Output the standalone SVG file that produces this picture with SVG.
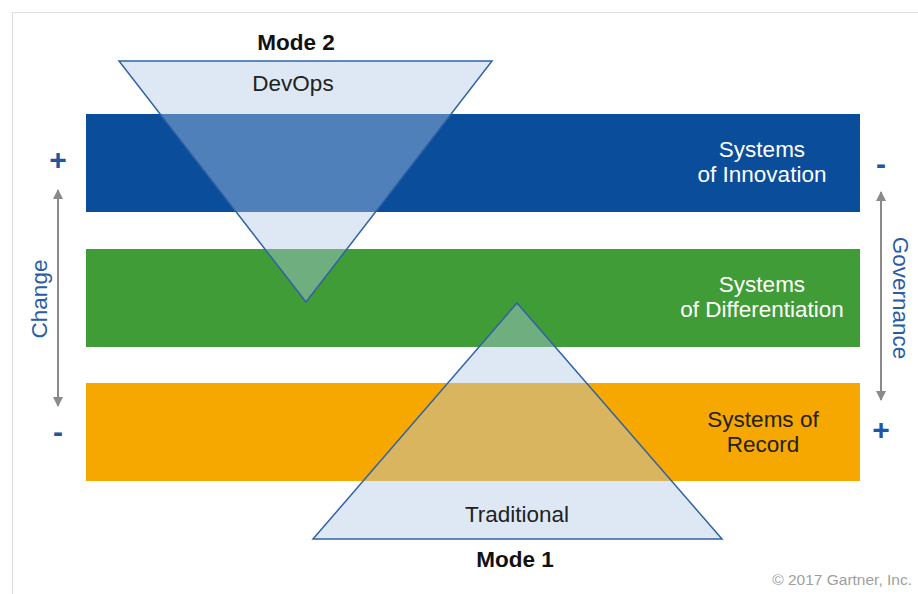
<svg xmlns="http://www.w3.org/2000/svg" width="918" height="594" viewBox="0 0 918 594">
<style>
.lbl{font-family:"Liberation Sans",Arial,sans-serif;font-size:22.5px;text-anchor:middle}
.w{fill:#ffffff}
.d{fill:#222222}
.b{font-weight:bold;fill:#111111}
.sign{font-family:"Liberation Sans",Arial,sans-serif;font-weight:bold;fill:#1f56a3;text-anchor:middle}
.axis{font-family:"Liberation Sans",Arial,sans-serif;font-size:22.5px;fill:#2a5ca6;text-anchor:middle}
.tri{fill:#b0c8e4;fill-opacity:0.42;stroke:#2f63a6;stroke-width:1.5}
.arr{stroke:#8a8a8a;stroke-width:2;fill:none}
</style>
<defs>
<marker id="ah" viewBox="0 0 10 10" refX="9" refY="5" markerWidth="5" markerHeight="5" orient="auto-start-reverse">
<path d="M0,0 L10,5 L0,10 z" fill="#8a8a8a"/>
</marker>
</defs>
<rect x="0" y="0" width="918" height="594" fill="#ffffff"/>
<rect x="12.5" y="12.5" width="910" height="590" fill="none" stroke="#dddddd" stroke-width="1"/>
<g id="band-innovation">
<rect x="86" y="114" width="774" height="98" fill="#0a4d9b"/>
<text class="lbl w" x="762" y="157">Systems</text>
<text class="lbl w" x="762" y="182">of Innovation</text>
</g>
<g id="band-differentiation">
<rect x="86" y="249" width="774" height="98" fill="#3f9c36"/>
<text class="lbl w" x="762" y="292">Systems</text>
<text class="lbl w" x="762" y="317">of Differentiation</text>
</g>
<g id="band-record">
<rect x="86" y="383" width="774" height="98" fill="#f7a800"/>
<text class="lbl d" x="763" y="427">Systems of</text>
<text class="lbl d" x="763" y="452">Record</text>
</g>
<g id="mode2">
<polygon class="tri" points="119,61 492,61 306,302"/>
<text class="lbl b" x="296" y="50">Mode 2</text>
<text class="lbl d" x="293" y="91">DevOps</text>
</g>
<g id="mode1">
<polygon class="tri" points="517,303 722,539 313,539"/>
<text class="lbl d" x="517" y="522">Traditional</text>
<text class="lbl b" x="515" y="567">Mode 1</text>
</g>
<g id="connectors">
<line class="arr" x1="58" y1="190" x2="58" y2="406" marker-start="url(#ah)" marker-end="url(#ah)"/>
<line class="arr" x1="881" y1="192" x2="881" y2="400" marker-start="url(#ah)" marker-end="url(#ah)"/>
</g>
<g id="change">
<text class="sign" x="58" y="170" font-size="30">+</text>
<text class="sign" x="58" y="442" font-size="30">-</text>
<text class="axis" transform="translate(47,299) rotate(-90)">Change</text>
</g>
<g id="governance">
<text class="sign" x="881" y="174" font-size="30">-</text>
<text class="sign" x="881" y="440" font-size="30">+</text>
<text class="axis" transform="translate(893,298) rotate(90)">Governance</text>
</g>
<text x="912" y="585" font-family="'Liberation Sans',Arial,sans-serif" font-size="15.5" fill="#a0a0a0" text-anchor="end">© 2017 Gartner, Inc.</text>
</svg>
